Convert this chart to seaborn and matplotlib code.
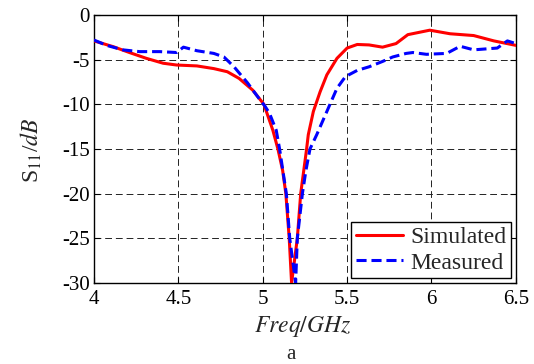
import matplotlib
matplotlib.use("Agg")
import matplotlib.pyplot as plt
import seaborn as sns
import pandas as pd

# Simulated S11 curve (GHz, dB)
sim_freq = [4.00, 4.115, 4.21, 4.31, 4.41, 4.49, 4.61, 4.71, 4.79, 4.86, 4.94, 5.007,
            5.06, 5.09, 5.118, 5.137, 5.157, 5.171, 5.205, 5.225, 5.26, 5.27, 5.30, 5.34,
            5.38, 5.44, 5.50, 5.56, 5.63, 5.71, 5.79, 5.86, 5.99, 6.11, 6.25, 6.37, 6.50]
sim_s11 = [-2.9, -3.55, -4.2, -4.85, -5.4, -5.6, -5.7, -6.0, -6.35, -7.1, -8.4, -10.0,
           -12.9, -15.0, -17.4, -20.0, -25.0, -30.0, -25.0, -20.0, -15.0, -13.4, -10.8, -8.6,
           -6.7, -4.85, -3.7, -3.3, -3.35, -3.6, -3.2, -2.2, -1.7, -2.1, -2.3, -2.9, -3.4]

# Measured S11 curve (GHz, dB)
meas_freq = [4.00, 4.075, 4.17, 4.27, 4.39, 4.49, 4.53, 4.61, 4.71, 4.77, 4.83, 4.91,
             4.98, 5.013, 5.04, 5.08, 5.10, 5.14, 5.16, 5.195, 5.205, 5.235, 5.256, 5.28,
             5.32, 5.38, 5.44, 5.49, 5.56, 5.63, 5.71, 5.77, 5.85, 5.89, 5.97, 6.09,
             6.17, 6.25, 6.39, 6.45, 6.50]
meas_s11 = [-2.8, -3.4, -3.9, -4.1, -4.1, -4.2, -3.6, -4.0, -4.3, -4.7, -5.8, -7.6,
            -9.4, -10.2, -11.0, -12.9, -15.0, -20.0, -25.0, -30.0, -25.0, -20.0, -17.4, -15.0,
            -13.4, -10.8, -8.2, -6.9, -6.2, -5.8, -5.2, -4.7, -4.3, -4.2, -4.4, -4.3,
            -3.5, -3.9, -3.7, -2.9, -3.2]

x_ticks = [4, 4.5, 5, 5.5, 6, 6.5]
x_tick_labels = ["4", "4.5", "5", "5.5", "6", "6.5"]
y_ticks = [0, -5, -10, -15, -20, -25, -30]
y_tick_labels = ["0", "-5", "-10", "-15", "-20", "-25", "-30"]

sns.set_style("ticks")
plt.rcParams["font.family"] = ["Liberation Serif", "DejaVu Serif"]
plt.rcParams["mathtext.fontset"] = "stix"

sim_df = pd.DataFrame({"freq": sim_freq, "s11": sim_s11})
meas_df = pd.DataFrame({"freq": meas_freq, "s11": meas_s11})

fig = plt.figure(figsize=(5.34, 3.64), dpi=100)
ax = fig.add_axes([0.176, 0.2225, 0.79, 0.7363])

sns.lineplot(data=sim_df, x="freq", y="s11", ax=ax, color="#ff0000",
             linewidth=2.2, label="Simulated", sort=False, zorder=3)
sns.lineplot(data=meas_df, x="freq", y="s11", ax=ax, color="#0000ff",
             linewidth=2.2, label="Measured", sort=False, zorder=4)
for ln in ax.lines:
    ln.set_solid_joinstyle("round")
    ln.set_dash_joinstyle("round")
ax.lines[-1].set_dashes((3.3, 1.6))

ax.set_xlim(4, 6.5)
ax.set_ylim(-30, 0)
ax.set_xticks(x_ticks)
ax.set_xticklabels(x_tick_labels)
ax.set_yticks(y_ticks)
ax.set_yticklabels(y_tick_labels)
ax.tick_params(direction="in", length=4, width=0.8, labelsize=15,
               top=True, right=True, colors="black", pad=3)
ax.tick_params(axis="x", pad=5)

ax.grid(True, color="#222222", linestyle=(0, (7, 4)), linewidth=0.7)
ax.set_axisbelow(True)
for sp in ax.spines.values():
    sp.set_visible(True)
    sp.set_color("black")
    sp.set_linewidth(1.0)

ax.set_xlabel(r"$\it{Freq/GHz}$", fontsize=17)
ax.xaxis.set_label_coords(0.495, -0.115)
ax.set_ylabel(r"S$_{11}$/$\it{dB}$", fontsize=17)
ax.yaxis.set_label_coords(-0.118, 0.496)

leg = ax.legend(loc="lower right", fontsize=17, frameon=True, fancybox=False,
                edgecolor="black", framealpha=1, borderaxespad=0.2,
                handlelength=2.0, handletextpad=0.3, borderpad=0.2,
                labelspacing=0.15)
leg.get_frame().set_linewidth(1.0)
for h in leg.get_lines():
    h.set_linewidth(2.2)
leg.get_lines()[1].set_dashes((3.3, 1.6))

fig.text(0.545, 1 - 359 / 364, "a", fontsize=15, ha="center", va="baseline")

fig.savefig("out.png", dpi=100)
